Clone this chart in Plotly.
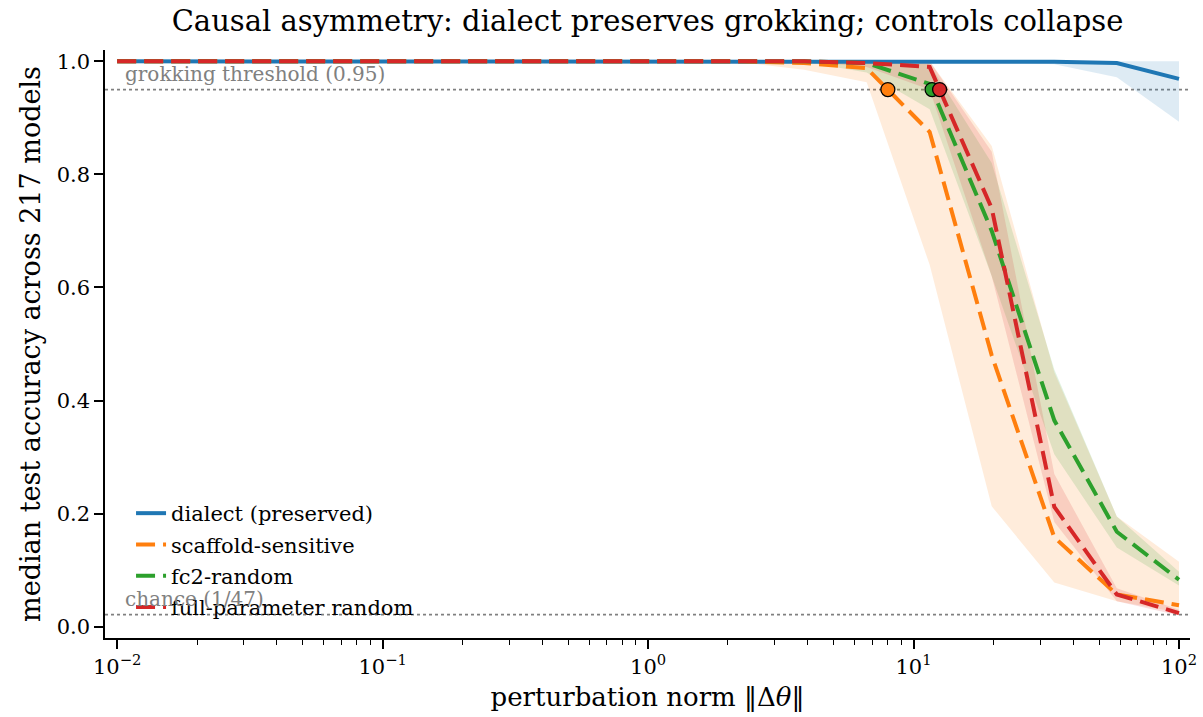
import math
import plotly.graph_objects as go

# perturbation norms (log-spaced sample points)
norms = [0.01, 0.0172, 0.0296, 0.0508, 0.0873, 0.150, 0.258, 0.444, 0.763,
         1.31, 2.25, 3.87, 6.66, 11.5, 19.7, 33.9, 58.3, 100]

# dialect (preserved)
dialect_med = [1.0]*15 + [0.999, 0.997, 0.969]
dialect_lo  = [1.0]*14 + [0.999, 0.995, 0.972, 0.893]
dialect_hi  = [1.0]*18

# scaffold-sensitive
scaffold_med = [1.0]*11 + [0.997, 0.988, 0.875, 0.48, 0.158, 0.057, 0.038]
scaffold_lo  = [1.0]*10 + [0.998, 0.985, 0.963, 0.64, 0.213, 0.078, 0.045, 0.025]
scaffold_hi  = [1.0]*14 + [0.85, 0.45, 0.195, 0.115]

# fc2-random
fc2_med = [1.0]*12 + [0.997, 0.96, 0.70, 0.365, 0.168, 0.083]
fc2_lo  = [1.0]*11 + [0.999, 0.98, 0.915, 0.62, 0.305, 0.14, 0.073]
fc2_hi  = [1.0]*13 + [0.995, 0.82, 0.455, 0.195, 0.097]

# full-parameter random
full_med = [1.0]*12 + [0.997, 0.99, 0.74, 0.212, 0.057, 0.024]
full_lo  = [1.0]*12 + [0.99, 0.95, 0.62, 0.185, 0.045, 0.02]
full_hi  = [1.0]*14 + [0.84, 0.27, 0.068, 0.03]

THRESH = 0.95
CHANCE = 1/47

series = [
    ("dialect (preserved)", dialect_med, dialect_lo, dialect_hi, (31, 119, 180), "solid", False),
    ("scaffold-sensitive", scaffold_med, scaffold_lo, scaffold_hi, (255, 127, 14), "19px,8px", True),
    ("fc2-random", fc2_med, fc2_lo, fc2_hi, (44, 160, 44), "19px,8px", True),
    ("full-parameter random", full_med, full_lo, full_hi, (214, 39, 40), "19px,8px", True),
]

FONT = "DejaVu Serif, serif"
fig = go.Figure()

def crossing(xs, ys, thr):
    for i in range(len(ys) - 1):
        if ys[i] >= thr and ys[i+1] < thr:
            f = (ys[i] - thr) / (ys[i] - ys[i+1])
            lx = math.log10(xs[i]) + f*(math.log10(xs[i+1]) - math.log10(xs[i]))
            return 10**lx
    return None

# bands first
for name, med, lo, hi, c, dash, mark in series:
    fig.add_trace(go.Scatter(x=norms + norms[::-1], y=hi + lo[::-1], fill="toself",
                             fillcolor=f"rgba({c[0]},{c[1]},{c[2]},0.15)",
                             line=dict(width=0), mode="lines", hoverinfo="skip",
                             showlegend=False))
# lines
for i, (name, med, lo, hi, c, dash, mark) in enumerate(series):
    fig.add_trace(go.Scatter(x=norms, y=med, mode="lines", name=name,
                             legendgroup=f"g{i}",
                             line=dict(color=f"rgb({c[0]},{c[1]},{c[2]})", width=4, dash=dash)))
# markers at threshold crossings
for name, med, lo, hi, c, dash, mark in series:
    if mark:
        xc = crossing(norms, med, THRESH)
        if xc is not None:
            fig.add_trace(go.Scatter(x=[xc], y=[THRESH], mode="markers", showlegend=False,
                                     marker=dict(size=14, color=f"rgb({c[0]},{c[1]},{c[2]})",
                                                 line=dict(color="black", width=1.3))))

for yv in (THRESH, CHANCE):
    fig.add_shape(type="line", xref="paper", x0=0, x1=1, yref="y", y0=yv, y1=yv,
                  line=dict(color="#808080", width=1.6, dash="dot"), layer="below")

fig.add_annotation(x=math.log10(0.0105), y=THRESH, xref="x", yref="y", xanchor="left",
                   yanchor="bottom", yshift=2, showarrow=False, text="grokking threshold (0.95)",
                   font=dict(family=FONT, size=20, color="#808080"))
fig.add_annotation(x=math.log10(0.0105), y=CHANCE, xref="x", yref="y", xanchor="left",
                   yanchor="bottom", yshift=2, showarrow=False, text="chance (1/47)",
                   font=dict(family=FONT, size=20, color="#808080"))

minor_vals = [m * 10**e for e in range(-2, 2) for m in range(2, 10)]

fig.update_layout(
    width=1203, height=717,
    margin=dict(l=105, r=13, t=50, b=79),
    plot_bgcolor="white", paper_bgcolor="white",
    font=dict(family=FONT, color="black", size=21),
    title=dict(text="Causal asymmetry: dialect preserves grokking; controls collapse",
               x=0.5, xref="paper", xanchor="center", y=0.985, yanchor="top",
               font=dict(family=FONT, size=29, color="black")),
    legend=dict(x=0.024, y=0.017, xanchor="left", yanchor="bottom",
                bgcolor="rgba(0,0,0,0)", font=dict(family=FONT, size=21),
                tracegroupgap=1),
    showlegend=True,
)
fig.update_xaxes(type="log", range=[math.log10(0.009), math.log10(110)],
                 automargin=False,
                 tickvals=[0.01, 0.1, 1, 10, 100],
                 ticktext=["10<sup>−2</sup>", "10<sup>−1</sup>", "10<sup>0</sup>",
                           "10<sup>1</sup>", "10<sup>2</sup>"],
                 tickfont=dict(family=FONT, size=21),
                 ticks="outside", ticklen=9, tickwidth=1.5, tickcolor="black",
                 minor=dict(tickvals=minor_vals, ticks="outside", ticklen=5, tickwidth=1,
                            tickcolor="black", showgrid=False),
                 showline=True, linecolor="black", linewidth=1.5, mirror=False,
                 showgrid=False, zeroline=False,
                 title=dict(text="perturbation norm ‖Δ<i>θ</i>‖", font=dict(family=FONT, size=26),
                            standoff=10))
fig.update_yaxes(range=[-0.02, 1.02], tickvals=[0, 0.2, 0.4, 0.6, 0.8, 1.0],
                 automargin=False,
                 ticktext=["0.0", "0.2", "0.4", "0.6", "0.8", "1.0"],
                 tickfont=dict(family=FONT, size=21),
                 ticks="outside", ticklen=9, tickwidth=1.5, tickcolor="black",
                 showline=True, linecolor="black", linewidth=1.5, mirror=False,
                 showgrid=False, zeroline=False,
                 title=dict(text="median test accuracy across 217 models",
                            font=dict(family=FONT, size=27), standoff=8))

fig.write_html("out.html")
